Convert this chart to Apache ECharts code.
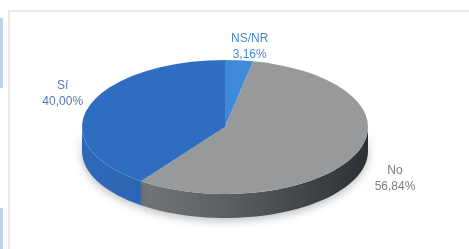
<html>
<head>
<meta charset="utf-8">
<title>ECharts</title>
<script src="https://cdn.jsdelivr.net/npm/echarts@6/dist/echarts.min.js"></script>
</head>
<body style="margin:0;background:#fff;">
<div id="main" style="width:469px;height:249px;"></div>
<script>
var categories = ['NS/NR', 'No', 'Sí'];
var values = [3.16, 56.84, 40.00];

var topColors = ['#3f8bd9', '#98999b', '#2f6dc1'];
var wallColors = [
	['#3a7fcc', '#2e6bb6'],
	['#858585', '#5b6064', '#2c3034'],
	['#3069b8', '#22539b']
];
var labelColors = ['#4a86d0', '#7d7d7d', '#5577b5'];

var cx = 225, cy = 127, rx = 143, ry = 67, depth = 24;
var total = values.reduce(function (a, b) { return a + b; }, 0);

function fmt(v) {
	return (v / total * 100).toFixed(2).replace('.', ',') + '%';
}

function renderItem(params, api) {
	var i = params.dataIndex;
	var before = 0;
	for (var k = 0; k < i; k++) before += values[k];
	var a0 = -Math.PI / 2 + before / total * 2 * Math.PI;
	var a1 = a0 + api.value(1) / total * 2 * Math.PI;
	var children = [];

	// front wall, only the part of the rim in the lower half
	var s = Math.max(a0, 0), e = Math.min(a1, Math.PI);
	if (e > s) {
		var pts = [], n = 40, t;
		for (var j = 0; j <= n; j++) {
			t = s + (e - s) * j / n;
			pts.push([cx + rx * Math.cos(t), cy + ry * Math.sin(t)]);
		}
		for (j = n; j >= 0; j--) {
			t = s + (e - s) * j / n;
			pts.push([cx + rx * Math.cos(t), cy + ry * Math.sin(t) + depth]);
		}
		var stops = wallColors[i].map(function (c, idx, arr) {
			return {offset: idx / (arr.length - 1), color: c};
		});
		children.push({
			type: 'polygon',
			shape: {points: pts},
			style: {
				fill: {type: 'linear', x: cx - rx, y: 0, x2: cx + rx, y2: 0, global: true, colorStops: stops},
				shadowBlur: 8,
				shadowColor: 'rgba(0,0,0,0.25)',
				shadowOffsetY: 3
			}
		});
	}

	// top face
	children.push({
		type: 'group',
		x: cx,
		y: cy,
		scaleY: ry / rx,
		children: [{
			type: 'sector',
			shape: {cx: 0, cy: 0, r: rx, r0: 0, startAngle: a0, endAngle: a1, clockwise: true},
			style: {fill: topColors[i]}
		}]
	});

	// label
	var m = (a0 + a1) / 2;
	var lx = cx + 7 + Math.cos(m) * 178;
	var ly = cy - 12 + Math.sin(m) * 69 + (Math.sin(m) > 0 ? depth * 1.5 : 0);
	children.push({
		type: 'text',
		x: lx,
		y: ly,
		style: {
			text: categories[i] + '\n' + fmt(api.value(1)),
			fill: labelColors[i],
			font: '12px "Liberation Sans", sans-serif',
			align: 'center',
			verticalAlign: 'middle',
			lineHeight: 16
		}
	});

	return {type: 'group', children: children};
}

var chart = echarts.init(document.getElementById('main'));

var option = {
	animation: false,
	graphic: [
		{type: 'rect', shape: {x: 9, y: 11, width: 480, height: 260}, style: {fill: '#fff', stroke: '#e8e8e8', lineWidth: 2}, z: -10},
		{type: 'rect', shape: {x: 0, y: 18, width: 3, height: 70}, style: {fill: '#bcd3ea'}, z: -10},
		{type: 'rect', shape: {x: 0, y: 208, width: 3, height: 41}, style: {fill: '#bcd3ea'}, z: -10}
	],
	series: [{
		type: 'custom',
		coordinateSystem: 'none',
		renderItem: renderItem,
		data: values.map(function (v, i) { return {name: categories[i], value: [i, v]}; })
	}]
};

chart.setOption(option);
</script>
</body>
</html>
